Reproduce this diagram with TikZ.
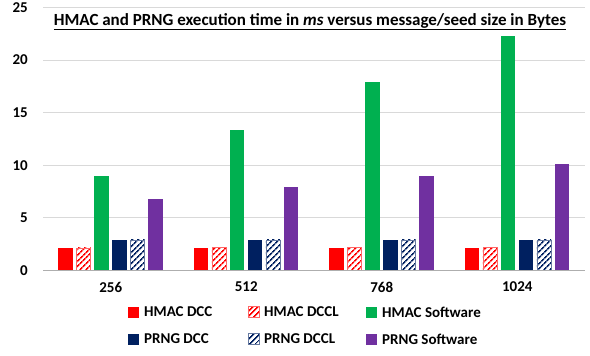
\documentclass[tikz,border=0pt]{standalone}
\usepackage{fontspec}
\setmainfont{Carlito}
\usepackage{tikz}
\usetikzlibrary{patterns.meta}
\usetikzlibrary{positioning}

\definecolor{hred}{HTML}{FF0000}
\definecolor{hgreen}{HTML}{00B050}
\definecolor{pnavy}{HTML}{002060}
\definecolor{ppurple}{HTML}{7030A0}
\definecolor{gridgray}{HTML}{D9D9D9}

\begin{document}
\begin{tikzpicture}[
    x=1pt, y=-1pt,
    every node/.style = {
        inner sep=0pt, font=\fontsize{15}{18}\selectfont\bfseries
    },
    gridline/.style = {draw=gridgray, line width=1pt},
    solidbar/.style = {fill=#1, draw=none},
    hatchbar/.style = {
        pattern={Lines[angle=45, distance=4pt, line width=1.7pt]},
        pattern color=#1, draw=#1!60, line width=0.3pt
    }
]
\useasboundingbox (0,0) rectangle (590,356);

% grid and value axis
\foreach \v in {5,10,...,25} {
    \draw[gridline] (43,{270.5-10.52*\v}) -- (585,{270.5-10.52*\v});
    \node[anchor=east] (tick\v) at (28,{270.5-10.52*\v}) {\v};
}
\node[anchor=east] (tick0) at (28,270.5) {0};

% bars
\foreach \i/\lab/\a/\b/\c/\d/\e/\f in {
        0/256/2.1/2.15/9.0/2.87/2.9/6.8,
        1/512/2.1/2.2/13.4/2.87/2.9/7.9,
        2/768/2.1/2.2/17.9/2.87/2.9/9.0,
        3/1024/2.1/2.2/22.3/2.87/2.9/10.1} {
    \pgfmathsetmacro{\cx}{43+135.5*(\i+0.5)}
    \path[solidbar=hred]   ({\cx-52.5},270.5) rectangle ({\cx-38.2},{270.5-10.52*\a});
    \path[hatchbar=hred]   ({\cx-34.5},270.5) rectangle ({\cx-20.2},{270.5-10.52*\b});
    \path[solidbar=hgreen] ({\cx-16.5},270.5) rectangle ({\cx-2.2},{270.5-10.52*\c});
    \path[solidbar=pnavy]  ({\cx+1.5},270.5) rectangle ({\cx+15.8},{270.5-10.52*\d});
    \path[hatchbar=pnavy]  ({\cx+19.5},270.5) rectangle ({\cx+33.8},{270.5-10.52*\e});
    \path[solidbar=ppurple] ({\cx+37.5},270.5) rectangle ({\cx+51.8},{270.5-10.52*\f});
    \node (cat\lab) at (\cx,287) {\lab};
}
\draw[draw=gridgray!80!black, line width=1pt] (43,270.5) -- (585,270.5);

% title
\node[anchor=base, font=\fontsize{17}{20}\selectfont\bfseries] (title) at (310,25)
    {\underline{HMAC and PRNG execution time in \textit{ms} versus message/seed size in Bytes}};

% legend
\foreach \x/\y/\kind/\col/\txt/\key in {
        128/312/solidbar/hred/HMAC DCC/hdcc,
        248/312/hatchbar/hred/HMAC DCCL/hdccl,
        366/312/solidbar/hgreen/HMAC Software/hsw,
        128/339/solidbar/pnavy/PRNG DCC/pdcc,
        248/339/hatchbar/pnavy/PRNG DCCL/pdccl,
        366/339/solidbar/ppurple/PRNG Software/psw} {
    \path[\kind=\col] (\x,{\y-5.5}) rectangle ({\x+11},{\y+5.5});
    \node[anchor=west] (leg\key) at ({\x+16},\y) {\txt};
}
\end{tikzpicture}
\end{document}
